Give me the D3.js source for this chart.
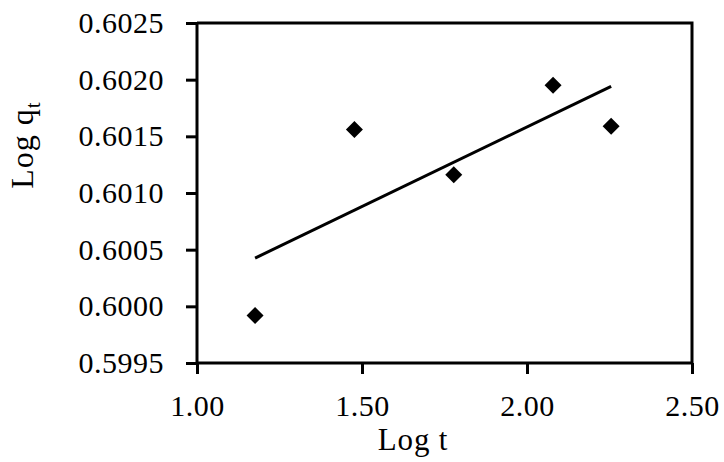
<!DOCTYPE html>
<html>
<head>
<meta charset="utf-8">
<script src="https://cdn.jsdelivr.net/npm/d3@7"></script>
<style>
  html, body { margin: 0; padding: 0; background: #fff; }
  svg { display: block; }
  text { font-family: "Palatino Linotype", "Book Antiqua", Palatino, "Liberation Serif", serif; fill: #000; }
</style>
</head>
<body>
<svg id="chart" width="724" height="462"></svg>
<script>
// Data (log10 of time in minutes vs log10 of q_t)
const logT  = [1.176, 1.477, 1.778, 2.079, 2.255];
const logQt = [0.59992, 0.60156, 0.60116, 0.60195, 0.60159];
const xTicks = [1.00, 1.50, 2.00, 2.50];
const yTicks = [0.5995, 0.6000, 0.6005, 0.6010, 0.6015, 0.6020, 0.6025];
const xTitle = "Log t";

(function () {
const svg = d3.select("#chart");
const pLeft = 197, pRight = 692, pTop = 23, pBottom = 363;

const x = d3.scaleLinear().domain([1.0, 2.5]).range([pLeft, pRight]);
const y = d3.scaleLinear().domain([0.5995, 0.6025]).range([pBottom, pTop]);

const fontSize = 30;

// Plot frame (top and right)
svg.append("path")
  .attr("d", `M${pLeft},${pTop}H${pRight}V${pBottom}`)
  .attr("fill", "none").attr("stroke", "#000").attr("stroke-width", 3);

// Y axis
const yAxis = svg.append("g")
  .attr("transform", `translate(${pLeft},0)`)
  .call(d3.axisLeft(y).tickValues(yTicks).tickFormat(d3.format(".4f")).tickSize(11).tickPadding(22));
// X axis
const xAxis = svg.append("g")
  .attr("transform", `translate(0,${pBottom})`)
  .call(d3.axisBottom(x).tickValues(xTicks).tickFormat(d3.format(".2f")).tickSize(11).tickPadding(21));

[yAxis, xAxis].forEach(g => {
  g.select(".domain").attr("stroke", "#000").attr("stroke-width", 3);
  g.selectAll(".tick line").attr("stroke", "#000").attr("stroke-width", 3);
  g.selectAll(".tick text")
    .attr("font-family", null)
    .style("font-size", fontSize + "px")
    .style("letter-spacing", "0.5px")
    .attr("fill", "#000");
});
yAxis.select(".domain").attr("d", `M0,${pBottom}V${pTop}`);
xAxis.select(".domain").attr("d", `M${pLeft},0H${pRight}`);

// Linear trendline (least squares fit of the data)
const mx = d3.mean(logT), my = d3.mean(logQt);
const slope = d3.sum(logT.map((v, i) => (v - mx) * (logQt[i] - my))) / d3.sum(logT.map(v => (v - mx) ** 2));
const intercept = my - slope * mx;
const xExt = d3.extent(logT);
svg.append("line")
  .attr("x1", x(xExt[0])).attr("y1", y(intercept + slope * xExt[0]))
  .attr("x2", x(xExt[1])).attr("y2", y(intercept + slope * xExt[1]))
  .attr("stroke", "#000").attr("stroke-width", 3);

// Diamond markers
const r = 8.5;
svg.append("g").selectAll("path")
  .data(logT.map((v, i) => [v, logQt[i]]))
  .join("path")
  .attr("transform", d => `translate(${x(d[0])},${y(d[1])})`)
  .attr("d", `M0,${-r}L${r},0L0,${r}L${-r},0Z`)
  .attr("fill", "#000");

// Axis titles
svg.append("text")
  .attr("x", 413).attr("y", 450)
  .attr("text-anchor", "middle")
  .style("font-size", "31px")
  .style("letter-spacing", "0.8px")
  .text(xTitle);

const yt = svg.append("text")
  .attr("transform", "translate(33,145) rotate(-90)")
  .attr("text-anchor", "middle")
  .style("font-size", "32px")
  .style("letter-spacing", "1px");
yt.append("tspan").text("Log q");
yt.append("tspan").attr("dy", 7).style("font-size", "21px").text("t");
})();
</script>
</body>
</html>
